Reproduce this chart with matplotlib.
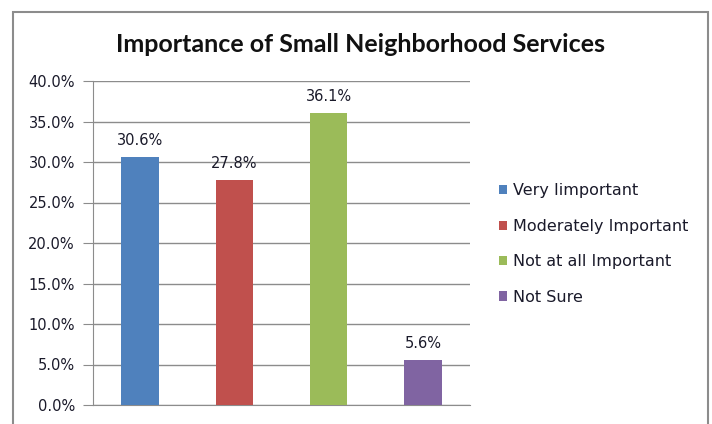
import matplotlib.pyplot as plt
from matplotlib.patches import Rectangle, Patch

# Survey results
categories = ['Very Iimportant', 'Moderately Important', 'Not at all Important', 'Not Sure']
values = [30.6, 27.8, 36.1, 5.6]
colors = ['#4F81BD', '#C0504D', '#9BBB59', '#8064A2']
yticks = [0, 5, 10, 15, 20, 25, 30, 35, 40]

plt.rcParams['font.family'] = ['DejaVu Sans']

fig = plt.figure(figsize=(7.12, 4.24), dpi=100)

# chart frame
fig.patches.append(Rectangle((13 / 712, -0.05), 695 / 712, 1.05 - 12 / 424,
                             transform=fig.transFigure, fill=False,
                             edgecolor='#8c8c8c', linewidth=1.5))

ax = fig.add_axes([93 / 712, 1 - 405 / 424, 377 / 712, 324 / 424])
x = range(len(categories))
ax.bar(x, values, width=0.4, color=colors, zorder=3)
for xi, v in zip(x, values):
    ax.text(xi, v + 1.1, f'{v:.1f}%', ha='center', va='bottom', fontsize=10.5, color='#1a1a2a')

ax.set_xlim(-0.5, len(categories) - 0.5)
ax.set_ylim(0, 40)
ax.set_yticks(yticks)
ax.set_yticklabels([f'{t:.1f}%' for t in yticks], fontsize=10.5, color='#1a1a2a')
ax.set_xticks([])
ax.grid(axis='y', color='#8c8c8c', linewidth=1, zorder=0)
for side in ['top', 'right']:
    ax.spines[side].set_visible(False)
ax.spines['left'].set_color('#8c8c8c')
ax.spines['bottom'].set_color('#8c8c8c')
ax.tick_params(axis='y', length=7, color='#8c8c8c', pad=6)

fig.text(360 / 712, 1 - 45 / 424, 'Importance of Small Neighborhood Services',
         ha='center', va='center', fontsize=18, fontweight='bold', color='#111111',
         family='Lato')

handles = [Patch(facecolor=c) for c in colors]
fig.legend(handles, categories, loc='upper left', bbox_to_anchor=(485 / 712, 1 - 169 / 424),
           frameon=False, prop={'size': 11.5}, handlelength=0.5, handleheight=0.5,
           handletextpad=0.37, labelspacing=1.28)
for t in fig.legends[0].get_texts():
    t.set_color('#1a1a2a')

fig.savefig('out.png', dpi=100, facecolor='white')
